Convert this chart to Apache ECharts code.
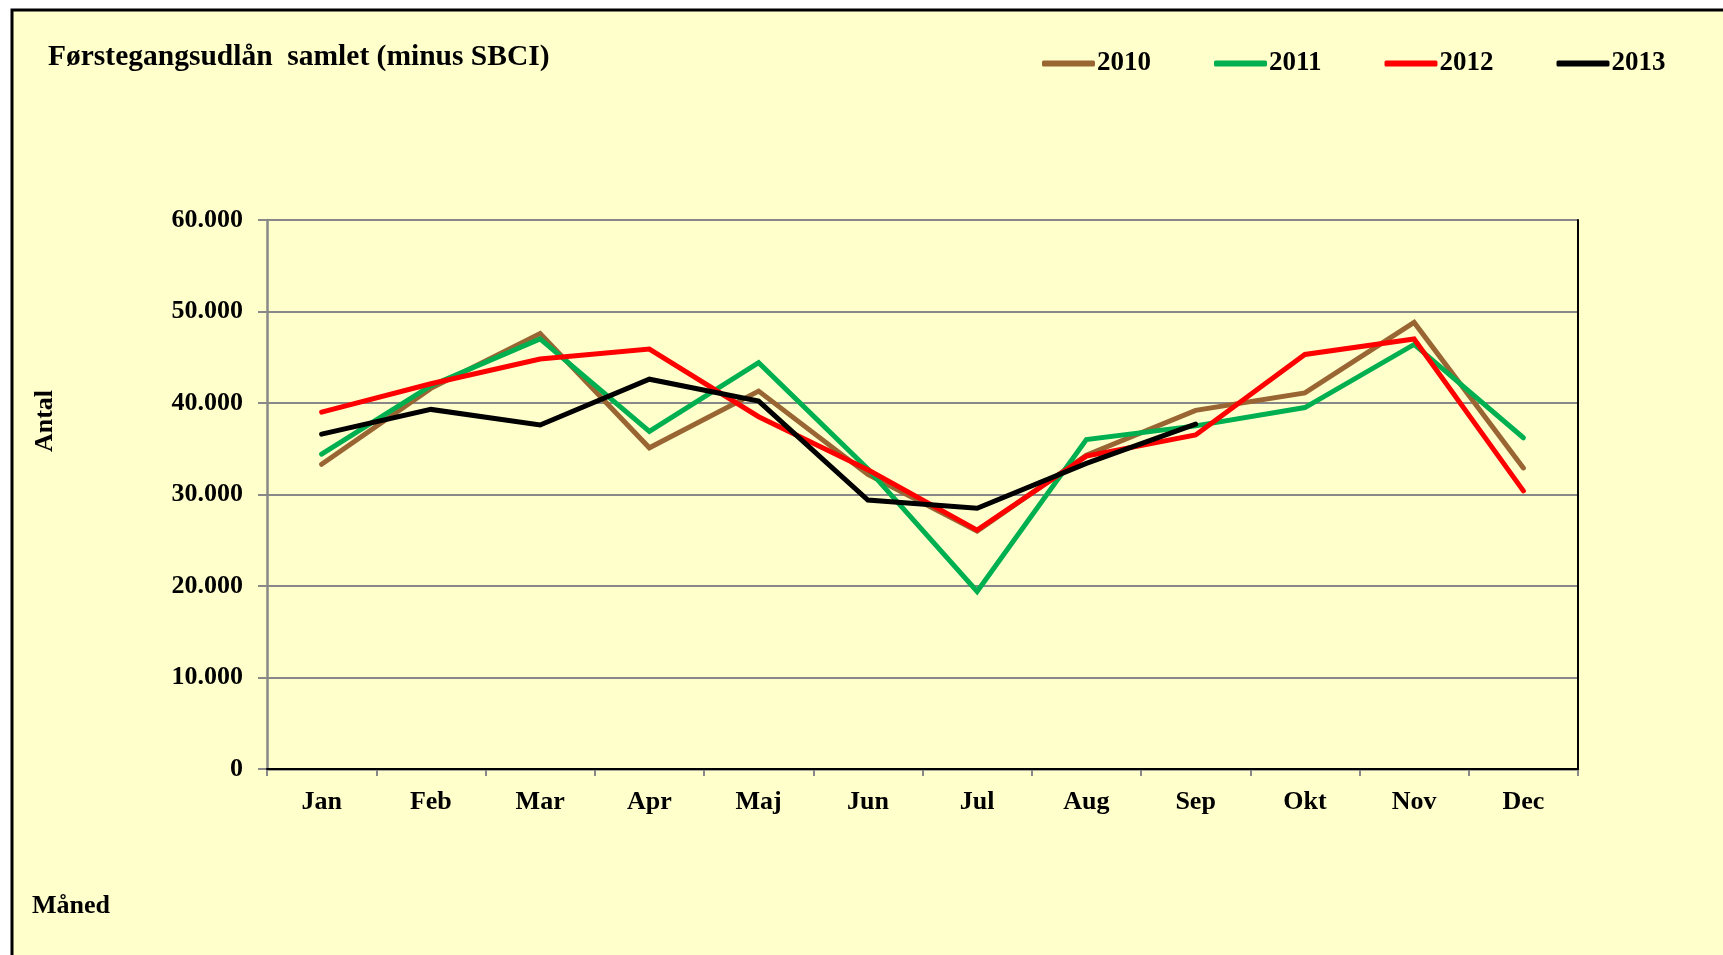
<!DOCTYPE html>
<html>
<head>
<meta charset="utf-8">
<title>Førstegangsudlån samlet (minus SBCI)</title>
<script src="https://cdn.jsdelivr.net/npm/echarts@6/dist/echarts.min.js"></script>
<style>
  html, body { margin: 0; padding: 0; background: #fff; }
  #chart { width: 1723px; height: 955px; }
</style>
</head>
<body>
<div id="chart"></div>
<script>
// chart data
const months = ['Jan', 'Feb', 'Mar', 'Apr', 'Maj', 'Jun', 'Jul', 'Aug', 'Sep', 'Okt', 'Nov', 'Dec'];
const years = ['2010', '2011', '2012', '2013'];
const values2010 = [33300, 41600, 47600, 35100, 41300, 32200, 26000, 34300, 39200, 41100, 48800, 32900];
const values2011 = [34400, 41900, 47000, 36900, 44400, 32800, 19400, 36000, 37500, 39500, 46400, 36200];
const values2012 = [39000, 42100, 44800, 45900, 38500, 32700, 26100, 34200, 36500, 45300, 47000, 30400];
const values2013 = [36600, 39300, 37600, 42600, 40200, 29400, 28500, 33400, 37700];
const yTicks = [0, 10000, 20000, 30000, 40000, 50000, 60000];

const lineColors = ['#996633', '#00B050', '#FF0000', '#000000'];
const font = '"Liberation Serif", "Times New Roman", serif';

const myChart = echarts.init(document.getElementById('chart'));

const makeSeries = (name, data, color) => ({
    name: name,
    type: 'line',
    data: data,
    symbol: 'none',
    lineStyle: { color: color, width: 5, cap: 'round', join: 'miter' },
    itemStyle: { color: color },
    animation: false
});

const option = {
    backgroundColor: '#ffffff',
    textStyle: { fontFamily: font, fontWeight: 'bold', color: '#000' },
    title: {
        text: 'Førstegangsudlån  samlet (minus SBCI)',
        left: 48,
        top: 42,
        padding: 0,
        textStyle: { fontFamily: font, fontSize: 29.5, fontWeight: 'bold', color: '#000' }
    },
    legend: {
        data: years,
        left: 1037,
        top: 45,
        itemWidth: 53,
        itemHeight: 6,
        itemGap: 63,
        icon: 'roundRect',
        textStyle: { fontFamily: font, fontSize: 27, fontWeight: 'bold', color: '#000', lineHeight: 27, padding: [0, 0, 0, -3] }
    },
    grid: { left: 267, top: 220, right: 145, bottom: 186, containLabel: false },
    graphic: [
        {
            // yellow panel with black edge
            type: 'rect',
            z: -10,
            shape: { x: 12, y: 10, width: 1760, height: 1000 },
            style: { fill: '#FFFFCC', stroke: '#000', lineWidth: 3 }
        },
        {
            type: 'text',
            x: 45,
            y: 421,
            rotation: Math.PI / 2,
            style: { text: 'Antal', font: 'bold 26px ' + font, fill: '#000', align: 'center', verticalAlign: 'middle' }
        },
        {
            type: 'text',
            x: 32,
            y: 906,
            style: { text: 'Måned', font: 'bold 26px ' + font, fill: '#000', align: 'left', verticalAlign: 'middle' }
        }
    ],
    xAxis: [
        {
            type: 'category',
            data: months,
            boundaryGap: true,
            axisLine: { lineStyle: { color: '#888', width: 2.5 } },
            axisTick: { show: true, length: 7, lineStyle: { color: '#888', width: 2 } },
            axisLabel: { fontFamily: font, fontSize: 26, fontWeight: 'bold', color: '#000', margin: 20 },
            splitLine: { show: false }
        },
        {
            // top frame line
            type: 'category',
            data: months,
            position: 'top',
            zlevel: 1,
            axisLine: { lineStyle: { color: '#000', width: 2 } },
            axisTick: { show: false },
            axisLabel: { show: false }
        }
    ],
    yAxis: [
        {
            type: 'value',
            min: yTicks[0],
            max: yTicks[yTicks.length - 1],
            interval: yTicks[1] - yTicks[0],
            axisLine: { show: true, lineStyle: { color: '#888', width: 2.5 } },
            axisTick: { show: true, length: 9, lineStyle: { color: '#888', width: 2 } },
            axisLabel: {
                fontFamily: font, fontSize: 26, fontWeight: 'bold', color: '#000', margin: 24,
                formatter: v => v === 0 ? '0' : String(v).replace(/\B(?=(\d{3})+(?!\d))/g, '.')
            },
            splitLine: { show: true, lineStyle: { color: '#888', width: 2 } }
        },
        {
            // right frame line
            type: 'value',
            position: 'right',
            min: yTicks[0],
            max: yTicks[yTicks.length - 1],
            interval: yTicks[1] - yTicks[0],
            zlevel: 1,
            axisLine: { show: true, lineStyle: { color: '#000', width: 2 } },
            axisTick: { show: false },
            axisLabel: { show: false },
            splitLine: { show: false }
        }
    ],
    series: [
        makeSeries(years[0], values2010, lineColors[0]),
        makeSeries(years[1], values2011, lineColors[1]),
        makeSeries(years[2], values2012, lineColors[2]),
        makeSeries(years[3], values2013, lineColors[3])
    ]
};

myChart.setOption(option);
</script>
</body>
</html>
